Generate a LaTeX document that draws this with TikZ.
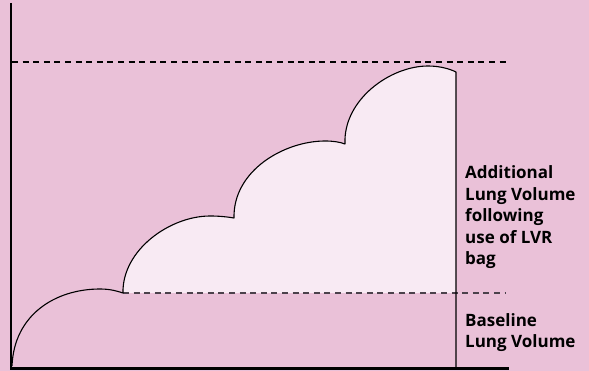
\documentclass[tikz,border=0pt]{standalone}
\usepackage{fontspec}
\setmainfont{Open Sans}[BoldFont={Open Sans Bold}]
\definecolor{bgpink}{RGB}{234,193,216}
\definecolor{lightpink}{RGB}{248,234,243}
\definecolor{dashgrey}{RGB}{75,65,75}
\tikzset{
  axisline/.style={line width=2.4pt, black},
  curveline/.style={line width=1.1pt, black, line join=round},
  guide/.style={line width=1.1pt, dash pattern=on 6pt off 4.6pt},
  lbl/.style={anchor=base west, inner sep=0pt, font=\bfseries\fontsize{17}{20}\selectfont, text=black}
}
\begin{document}
\begin{tikzpicture}[x=1pt,y=-1pt]
\useasboundingbox (0,0) rectangle (589,371);
\fill[bgpink] (0,0) rectangle (589,371);
% filled added volume
\fill[lightpink] (123,293) .. controls (122,250) and (170,216) .. (210,216)
  .. controls (220,216) and (228,217) .. (234,218)
  .. controls (233,170) and (285,141) .. (325,141)
  .. controls (333,141) and (340,142) .. (345,144)
  .. controls (343,100) and (390,66) .. (428,66)
  .. controls (440,66) and (450,69) .. (456,72)
  -- (456,293) -- cycle;
% guides
\coordinate (t1) at (12,62);
\coordinate (t2) at (506,62);
\coordinate (b1) at (123,293);
\coordinate (b2) at (506,293);
\draw[guide, black] (t1) -- (t2);
\draw[guide, dashgrey] (b1) -- (b2);
% curve
\coordinate (c0) at (12,366);
\coordinate (c1) at (123,293);
\coordinate (c2) at (234,218);
\coordinate (c3) at (345,144);
\coordinate (c4) at (456,72);
\coordinate (c5) at (456,368);
\draw[curveline] (c0) .. controls (14,315) and (55,289) .. (100,289)
  .. controls (110,289) and (117,291) .. (c1)
  .. controls (122,250) and (170,216) .. (210,216)
  .. controls (220,216) and (228,217) .. (c2)
  .. controls (233,170) and (285,141) .. (325,141)
  .. controls (333,141) and (340,142) .. (c3)
  .. controls (343,100) and (390,66) .. (428,66)
  .. controls (440,66) and (450,69) .. (c4)
  -- (c5);
% axes
\coordinate (ytop) at (11,3);
\coordinate (orig) at (11,368.5);
\coordinate (xend) at (509,368.5);
\draw[axisline] (ytop) -- (orig) -- (xend);
% labels
\node[lbl] (a1) at (465,179) {Additional};
\node[lbl] (a2) at (465,200.5) {Lung Volume};
\node[lbl] (a3) at (465,222) {following};
\node[lbl] (a4) at (465,243.5) {use of LVR};
\node[lbl] (a5) at (465,265) {bag};
\node[lbl] (l1) at (465,326.5) {Baseline};
\node[lbl] (l2) at (465,348) {Lung Volume};
\end{tikzpicture}
\end{document}
